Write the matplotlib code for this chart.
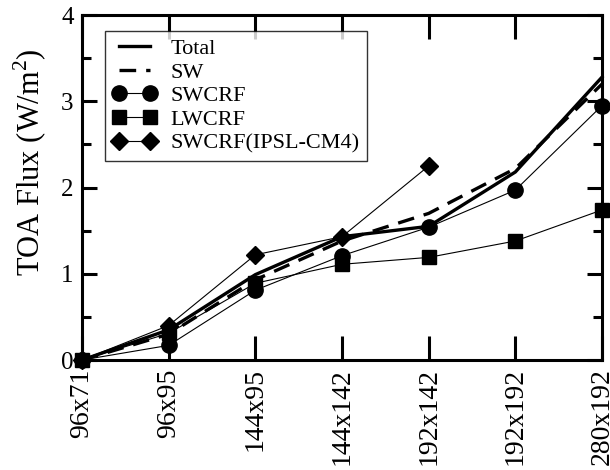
import matplotlib
matplotlib.use("Agg")
import matplotlib.pyplot as plt
from matplotlib.ticker import MultipleLocator

plt.rcParams['font.family'] = ['Liberation Serif', 'DejaVu Serif']
plt.rcParams['mathtext.fontset'] = 'custom'
plt.rcParams['mathtext.rm'] = 'Liberation Serif'

# grid resolutions
grids = ['96x71', '96x95', '144x95', '144x142', '192x142', '192x192', '280x192']

# TOA flux change (W/m2)
total = [0.0, 0.35, 0.99, 1.43, 1.55, 2.18, 3.28]
sw = [0.0, 0.30, 0.93, 1.38, 1.70, 2.22, 3.20]
swcrf = [0.0, 0.17, 0.81, 1.21, 1.54, 1.97, 2.95]
lwcrf = [0.0, 0.31, 0.89, 1.11, 1.19, 1.38, 1.74]
ipsl = [0.0, 0.40, 1.22, 1.43, 2.25]

x = list(range(len(grids)))

fig = plt.figure(figsize=(6.1, 4.7), dpi=100)
ax = fig.add_axes([0.1344, 0.234, 0.8525, 0.734])

ax.plot(x, total, color='black', lw=2.4, label='Total', clip_on=False, zorder=4)
ax.plot(x, sw, color='black', lw=2.4, dashes=(5, 3), label='SW', clip_on=False, zorder=4)
ax.plot(x, swcrf, color='black', lw=0.8, marker='o', ms=11, label='SWCRF', clip_on=False, zorder=3)
ax.plot(x, lwcrf, color='black', lw=0.8, marker='s', ms=10, label='LWCRF', clip_on=False, zorder=3)
ax.plot(x[:len(ipsl)], ipsl, color='black', lw=0.8, marker='D', ms=9,
        label='SWCRF(IPSL-CM4)', clip_on=False, zorder=3)

ax.set_xlim(0, 6)
ax.set_ylim(0, 4)
ax.set_xticks(x)
ax.set_xticklabels(grids, rotation=90, fontsize=20)
ax.yaxis.set_major_locator(MultipleLocator(1))
ax.yaxis.set_minor_locator(MultipleLocator(0.5))
ax.tick_params(axis='y', labelsize=18)
ax.tick_params(axis='both', which='major', direction='in', width=2.2, top=True, right=True)
ax.tick_params(axis='x', which='major', length=17, pad=6)
ax.tick_params(axis='y', which='major', length=11, pad=6)
ax.tick_params(axis='y', which='minor', direction='in', width=2.2, length=6.5, right=True)
ax.tick_params(axis='x', which='minor', bottom=False, top=False)
for s in ax.spines.values():
    s.set_linewidth(2.2)

ax.set_ylabel('TOA Flux (W/m$^{2}$)', fontsize=22)
ax.yaxis.set_label_coords(-0.063, 0.574)

leg = ax.legend(loc='upper left', bbox_to_anchor=(0.044, 0.955), numpoints=2,
                fontsize=16, frameon=True, fancybox=False, edgecolor='black',
                handlelength=2.0, handletextpad=0.6, labelspacing=0.14,
                borderpad=0.35, borderaxespad=0)
leg.get_frame().set_linewidth(1.0)

fig.savefig('out.png', dpi=100)
